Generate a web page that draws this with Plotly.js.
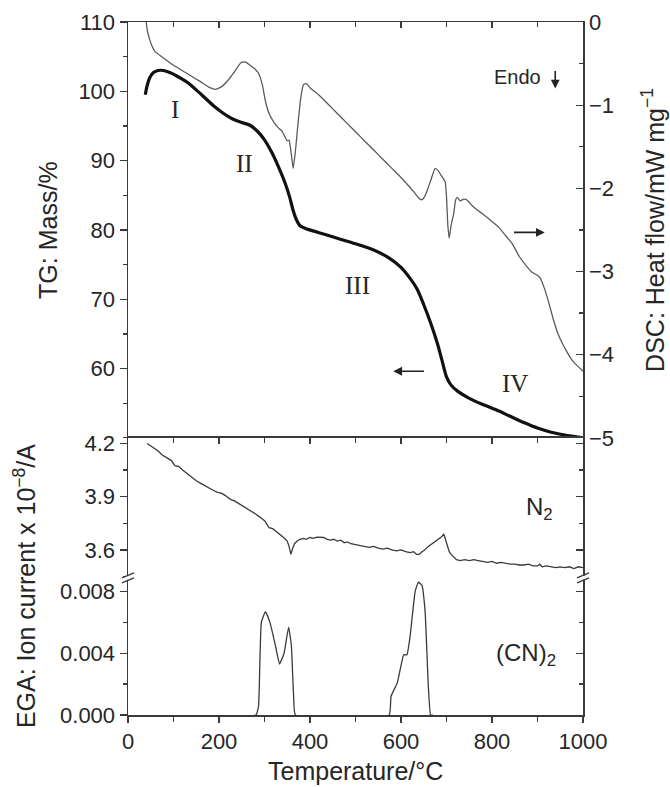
<!DOCTYPE html>
<html>
<head>
<meta charset="utf-8">
<script src="https://cdn.plot.ly/plotly-3.0.1.min.js"></script>
<style>html,body{margin:0;padding:0;background:#fff;}#chart{width:670px;height:787px;}</style>
</head>
<body>
<div id="chart"></div>
<script>
// ---- Data ----
// TG (mass %, left axis, top panel)
var tgT = [38, 42, 48, 56, 66, 78, 92, 110, 130, 150, 170, 190, 210, 230, 250, 268, 285, 300, 315, 330, 345, 355, 363, 370, 378, 390, 420, 460, 500, 540, 575, 600, 620, 635, 650, 665, 680, 690, 700, 710, 725, 750, 780, 810, 840, 870, 900, 930, 960, 1000];
var tgMass = [99.5, 100.8, 102.0, 102.7, 103.0, 103.0, 102.7, 102.1, 101.3, 100.2, 99.0, 97.8, 96.8, 96.0, 95.5, 95.1, 94.2, 93.0, 91.3, 89.2, 86.8, 84.8, 82.8, 81.5, 80.6, 80.2, 79.6, 78.8, 78.0, 77.1, 75.9, 74.6, 73.0, 71.5, 69.2, 66.6, 63.6, 61.2, 58.8, 57.6, 56.7, 55.7, 54.8, 54.0, 53.1, 52.2, 51.4, 50.8, 50.4, 50.0];

// DSC (heat flow mW/mg, right axis, top panel)
var dscT = [40, 43, 47, 52, 60, 75, 100, 130, 160, 180, 192, 205, 220, 235, 248, 258, 268, 278, 287, 295, 302, 310, 320, 330, 338, 345, 350, 354, 358, 363, 368, 374, 380, 386, 392, 400, 420, 440, 460, 480, 500, 520, 540, 560, 580, 600, 615, 628, 638, 645, 652, 660, 668, 675, 682, 690, 697, 700, 703, 706, 710, 716, 720, 724, 730, 738, 745, 755, 765, 780, 800, 815, 830, 845, 860, 875, 888, 898, 906, 915, 925, 935, 945, 955, 965, 975, 985, 1000];
var dscHeat = [0.0, -0.12, -0.2, -0.28, -0.36, -0.42, -0.52, -0.62, -0.72, -0.79, -0.81, -0.78, -0.70, -0.59, -0.49, -0.48, -0.52, -0.56, -0.62, -0.75, -0.95, -1.1, -1.2, -1.27, -1.31, -1.38, -1.43, -1.42, -1.55, -1.76, -1.55, -1.2, -0.9, -0.75, -0.74, -0.79, -0.88, -0.99, -1.1, -1.21, -1.32, -1.43, -1.54, -1.65, -1.76, -1.87, -1.96, -2.04, -2.11, -2.14, -2.1, -1.99, -1.86, -1.76, -1.79, -1.86, -1.92, -2.1, -2.45, -2.6, -2.45, -2.3, -2.14, -2.11, -2.15, -2.13, -2.14, -2.2, -2.25, -2.31, -2.4, -2.47, -2.57, -2.67, -2.82, -2.93, -3.01, -3.04, -3.08, -3.2, -3.38, -3.58, -3.75, -3.87, -3.97, -4.06, -4.12, -4.2];

// EGA N2 ion current (x 1e-8 A)
var n2T = [42, 55, 65, 75, 85, 95, 103, 112, 120, 130, 141, 150, 160, 170, 180, 188, 197, 205, 215, 225, 235, 245, 255, 265, 275, 282, 290, 300, 305, 310, 318, 326, 334, 340, 346, 350, 354, 358, 362, 366, 372, 378, 385, 392, 400, 408, 415, 422, 430, 438, 445, 452, 460, 468, 475, 482, 490, 500, 510, 520, 530, 540, 550, 560, 570, 580, 590, 600, 610, 620, 628, 634, 640, 646, 652, 660, 668, 676, 684, 690, 694, 698, 702, 706, 710, 716, 722, 730, 740, 750, 760, 770, 780, 790, 800, 810, 820, 830, 840, 850, 860, 870, 880, 890, 900, 905, 910, 920, 930, 940, 950, 960, 970, 980, 990, 1000];
var n2Current = [4.20, 4.18, 4.16, 4.135, 4.12, 4.105, 4.075, 4.07, 4.05, 4.03, 4.005, 3.99, 3.975, 3.96, 3.945, 3.935, 3.925, 3.92, 3.905, 3.885, 3.875, 3.86, 3.845, 3.83, 3.815, 3.80, 3.785, 3.765, 3.745, 3.725, 3.72, 3.705, 3.685, 3.675, 3.66, 3.65, 3.62, 3.575, 3.61, 3.635, 3.65, 3.66, 3.665, 3.66, 3.67, 3.665, 3.672, 3.67, 3.67, 3.66, 3.655, 3.66, 3.65, 3.655, 3.64, 3.645, 3.635, 3.63, 3.625, 3.62, 3.615, 3.62, 3.61, 3.605, 3.61, 3.60, 3.595, 3.60, 3.59, 3.585, 3.59, 3.575, 3.575, 3.59, 3.60, 3.62, 3.635, 3.645, 3.66, 3.675, 3.69, 3.66, 3.62, 3.59, 3.575, 3.56, 3.545, 3.54, 3.545, 3.54, 3.545, 3.54, 3.535, 3.53, 3.535, 3.525, 3.53, 3.525, 3.52, 3.52, 3.515, 3.515, 3.52, 3.51, 3.51, 3.52, 3.505, 3.51, 3.505, 3.50, 3.505, 3.50, 3.505, 3.495, 3.505, 3.50];

// EGA (CN)2 ion current (x 1e-8 A)
var cnT = [278, 282, 287, 293, 302, 312, 324, 333, 343, 353, 359, 364, 368, 574, 578, 592, 606, 613, 620, 631, 638, 646, 653, 660, 665, 670];
var cnCurrent = [0, 0, 0.0006, 0.0060, 0.0067, 0.0060, 0.0045, 0.0033, 0.0040, 0.0057, 0.0045, 0.0012, 0, 0, 0.0012, 0.0021, 0.0039, 0.0039, 0.0051, 0.0080, 0.0086, 0.0084, 0.0067, 0.0019, 0, 0];

// Axis tick values / labels
var xTicks = [0, 200, 400, 600, 800, 1000];
var tgTicks = [60, 70, 80, 90, 100, 110];
var dscTicks = [0, -1, -2, -3, -4, -5];
var n2Ticks = [3.6, 3.9, 4.2];
var cnTicks = [0, 0.004, 0.008];
var cnTickText = ['0.000', '0.004', '0.008'];

// ---- Styling ----
var AX = '#3a3a3a';
var TXT = '#262626';
var FONT = 'Liberation Sans, Arial, sans-serif';
var SERIF = 'Liberation Serif, Times New Roman, serif';
var TICKSIZE = 22;

function xax(extra) {
  var a = {
    range: [0, 1000], showline: true, linecolor: AX, linewidth: 1.5,
    showgrid: false, zeroline: false, tickvals: xTicks, ticklen: 6, tickwidth: 1.3, tickcolor: AX,
    tickfont: {family: FONT, size: TICKSIZE, color: TXT}, fixedrange: true
  };
  for (var k in extra) a[k] = extra[k];
  return a;
}
function yax(extra) {
  var a = {
    showline: true, linecolor: AX, linewidth: 1.5, showgrid: false, zeroline: false,
    ticklen: 7, tickwidth: 1.3, tickcolor: AX,
    tickfont: {family: FONT, size: TICKSIZE, color: TXT}, fixedrange: true
  };
  for (var k in extra) a[k] = extra[k];
  return a;
}

var N2R = [3.443, 4.232];
var CNR = [0, 0.00889];
var BRK = 0.198;

var traces = [
  {x: dscT, y: dscHeat, xaxis: 'x2', yaxis: 'y2', mode: 'lines', type: 'scatter',
   line: {color: '#5a5a5a', width: 1.3, shape: 'spline', smoothing: 0.4}, hoverinfo: 'skip'},
  {x: tgT, y: tgMass, xaxis: 'x2', yaxis: 'y', mode: 'lines', type: 'scatter',
   line: {color: '#111', width: 3.2, shape: 'spline', smoothing: 0.8}, hoverinfo: 'skip'},
  {x: n2T, y: n2Current, xaxis: 'x3', yaxis: 'y3', mode: 'lines', type: 'scatter',
   line: {color: '#3a3a3a', width: 1.3}, hoverinfo: 'skip'},
  {x: cnT, y: cnCurrent, xaxis: 'x', yaxis: 'y4', mode: 'lines', type: 'scatter',
   line: {color: '#3a3a3a', width: 1.3, shape: 'spline', smoothing: 0.35}, hoverinfo: 'skip'}
];

var arrowStyle = {showarrow: true, arrowhead: 2, arrowsize: 1.1, arrowwidth: 1.6, arrowcolor: '#222', text: ''};
function arrow(o) { var a = {}; for (var k in arrowStyle) a[k] = arrowStyle[k]; for (var k2 in o) a[k2] = o[k2]; return a; }

var annotations = [
  // axis titles
  {xref: 'paper', yref: 'paper', x: 0, y: 0.70, xshift: -80, textangle: -90, showarrow: false,
   xanchor: 'center', yanchor: 'middle', text: 'TG: Mass/%', font: {family: FONT, size: 25, color: TXT}},
  {xref: 'paper', yref: 'paper', x: 1, y: 0.70, xshift: 70, textangle: -90, showarrow: false,
   xanchor: 'center', yanchor: 'middle', text: 'DSC: Heat flow/mW mg<sup>\u22121</sup>', font: {family: FONT, size: 25, color: TXT}},
  {xref: 'paper', yref: 'paper', x: 0, y: 0.186, xshift: -103, textangle: -90, showarrow: false,
   xanchor: 'center', yanchor: 'middle', text: 'EGA: Ion current x 10<sup>\u22128</sup>/A', font: {family: FONT, size: 25, color: TXT}},
  {xref: 'paper', yref: 'paper', x: 0.5, y: 0, yshift: -56, showarrow: false,
   xanchor: 'center', yanchor: 'middle', text: 'Temperature/\u00b0C', font: {family: FONT, size: 25, color: TXT}},
  // labels in the top panel
  {xref: 'x2', yref: 'y2', x: 855, y: -0.66, showarrow: false, text: 'Endo', font: {family: FONT, size: 20, color: TXT}},
  arrow({xref: 'x2', yref: 'y2', axref: 'x2', ayref: 'y2', x: 939, y: -0.80, ax: 939, ay: -0.57}),
  arrow({xref: 'x2', yref: 'y2', axref: 'x2', ayref: 'y2', x: 916, y: -2.53, ax: 845, ay: -2.53}),
  arrow({xref: 'x2', yref: 'y', axref: 'x2', ayref: 'y', x: 583, y: 59.6, ax: 654, ay: 59.6}),
  {xref: 'x2', yref: 'y', x: 104, y: 97.4, showarrow: false, text: 'I', font: {family: SERIF, size: 25, color: TXT}},
  {xref: 'x2', yref: 'y', x: 257, y: 89.6, showarrow: false, text: 'II', font: {family: SERIF, size: 25, color: TXT}},
  {xref: 'x2', yref: 'y', x: 504, y: 72.0, showarrow: false, text: 'III', font: {family: SERIF, size: 25, color: TXT}},
  {xref: 'x2', yref: 'y', x: 850, y: 57.8, showarrow: false, text: 'IV', font: {family: SERIF, size: 25, color: TXT}},
  // labels in the EGA panels
  {xref: 'x3', yref: 'y3', x: 905, y: 3.835, showarrow: false, text: 'N<sub>2</sub>', font: {family: FONT, size: 24, color: TXT}},
  {xref: 'x', yref: 'y4', x: 875, y: 0.0039, showarrow: false, text: '(CN)<sub>2</sub>', font: {family: FONT, size: 24, color: TXT}}
];

// axis-break marks on both vertical axes
var shapes = [];
[0, 1].forEach(function (side) {
  shapes.push({type: 'rect', xref: 'paper', yref: 'paper', xsizemode: 'pixel', ysizemode: 'pixel',
    xanchor: side, yanchor: BRK, x0: -3, x1: 3, y0: -2, y1: 2, fillcolor: '#fff', line: {width: 0}, layer: 'above'});
  shapes.push({type: 'line', xref: 'paper', yref: 'paper', xsizemode: 'pixel', ysizemode: 'pixel',
    xanchor: side, yanchor: BRK, x0: -6, x1: 6, y0: -5, y1: 0, line: {color: AX, width: 1.4}, layer: 'above'});
  shapes.push({type: 'line', xref: 'paper', yref: 'paper', xsizemode: 'pixel', ysizemode: 'pixel',
    xanchor: side, yanchor: BRK, x0: -6, x1: 6, y0: 0, y1: 5, line: {color: AX, width: 1.4}, layer: 'above'});
});

var layout = {
  width: 670, height: 787,
  margin: {l: 128, r: 87, t: 22, b: 72, pad: 0},
  paper_bgcolor: '#fff', plot_bgcolor: '#fff',
  showlegend: false,
  font: {family: FONT, color: TXT},
  xaxis: xax({anchor: 'y4', domain: [0, 1], ticks: 'outside', minor: {dtick: 100, tick0: 0, ticks: 'outside', ticklen: 5, tickwidth: 1.3, tickcolor: AX}}),
  xaxis2: xax({anchor: 'y', domain: [0, 1], side: 'top', ticks: 'inside', showticklabels: false,
    minor: {dtick: 100, tick0: 0, ticks: 'inside', ticklen: 5, tickwidth: 1.3, tickcolor: AX}}),
  xaxis3: xax({anchor: 'y3', domain: [0, 1], side: 'top', ticks: 'inside', showticklabels: false,
    minor: {dtick: 100, tick0: 0, ticks: 'inside', ticklen: 5, tickwidth: 1.3, tickcolor: AX}}),
  yaxis: yax({domain: [0.4, 1], anchor: 'x2', range: [50, 110], side: 'left', ticks: 'outside', tickvals: tgTicks,
    minor: {dtick: 5, tick0: 50, ticks: 'outside', ticklen: 4, tickwidth: 1.3, tickcolor: AX}}),
  yaxis2: yax({overlaying: 'y', anchor: 'x2', side: 'right', range: [-5, 0], ticks: 'inside', tickvals: dscTicks,
    minor: {dtick: 0.5, tick0: 0, ticks: 'inside', ticklen: 4, tickwidth: 1.3, tickcolor: AX}}),
  yaxis3: yax({domain: [BRK, 0.4], anchor: 'x3', range: N2R, side: 'left', ticks: 'outside', tickvals: n2Ticks,
    ticktext: ['3.6', '3.9', '4.2'], minor: {tickvals: [3.45, 3.75, 4.05], ticks: 'outside', ticklen: 4, tickwidth: 1.3, tickcolor: AX}}),
  yaxis5: yax({overlaying: 'y3', anchor: 'x3', side: 'right', range: N2R, ticks: 'inside', tickvals: n2Ticks, showticklabels: false,
    minor: {tickvals: [3.45, 3.75, 4.05], ticks: 'inside', ticklen: 4, tickwidth: 1.3, tickcolor: AX}}),
  yaxis4: yax({domain: [0, BRK], anchor: 'x', range: CNR, side: 'left', ticks: 'outside', tickvals: cnTicks, ticktext: cnTickText,
    minor: {tickvals: [0.002, 0.006], ticks: 'outside', ticklen: 4, tickwidth: 1.3, tickcolor: AX}}),
  yaxis6: yax({overlaying: 'y4', anchor: 'x', side: 'right', range: CNR, ticks: 'inside', tickvals: cnTicks, showticklabels: false,
    minor: {tickvals: [0.002, 0.006], ticks: 'inside', ticklen: 4, tickwidth: 1.3, tickcolor: AX}}),
  annotations: annotations,
  shapes: shapes
};

// invisible traces so the right-side overlay axes are drawn
traces.push({x: [500], y: [3.6], xaxis: 'x3', yaxis: 'y5', mode: 'markers', marker: {opacity: 0, size: 1}, hoverinfo: 'skip'});
traces.push({x: [500], y: [0.004], xaxis: 'x', yaxis: 'y6', mode: 'markers', marker: {opacity: 0, size: 1}, hoverinfo: 'skip'});

Plotly.newPlot('chart', traces, layout, {staticPlot: true, displayModeBar: false});
</script>
</body>
</html>
